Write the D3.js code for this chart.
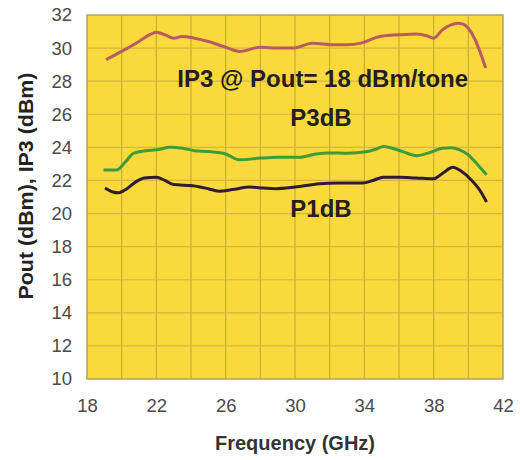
<!DOCTYPE html>
<html lang="en">
<head>
<meta charset="UTF-8">
<title>Pout and IP3 vs Frequency</title>
<style>
body {
    margin: 0;
    background-color: #fff;
    font-family: "Liberation Sans", Arial, sans-serif;
}
</style>
</head>
<body>
<div id="plot"></div>
<script src="https://cdn.jsdelivr.net/npm/d3@7"></script>
<script>

const w = 520,
      h = 460;

// values (GHz, dBm)
const ip3Freq = [19.1, 20.0, 21.0, 21.6, 22.0, 22.5, 23.0, 23.5, 24.2, 25.0, 26.0, 26.8, 28.0, 29.0, 29.9, 31.0, 32.2, 33.0, 33.8, 34.9, 36.0, 37.0, 37.6, 38.0, 38.5, 39.0, 39.4, 39.7, 40.0, 40.4, 40.7, 41.0];
const ip3Vals = [29.3, 29.8, 30.4, 30.8, 30.95, 30.8, 30.6, 30.7, 30.6, 30.4, 30.05, 29.8, 30.05, 30.0, 30.0, 30.3, 30.2, 30.2, 30.3, 30.7, 30.8, 30.85, 30.75, 30.6, 31.1, 31.4, 31.5, 31.45, 31.2, 30.5, 29.7, 28.8];

const p3Freq = [18.95, 19.7, 20.2, 20.7, 21.4, 22.0, 22.8, 23.5, 24.2, 25.0, 26.0, 26.8, 28.0, 29.0, 30.3, 31.2, 31.9, 33.0, 34.2, 34.7, 35.1, 35.6, 36.2, 37.0, 37.8, 38.5, 39.0, 39.5, 40.0, 40.5, 41.05];
const p3Vals = [22.63, 22.63, 23.1, 23.65, 23.8, 23.85, 24.0, 23.95, 23.8, 23.75, 23.6, 23.25, 23.35, 23.4, 23.4, 23.6, 23.66, 23.65, 23.75, 23.9, 24.05, 23.95, 23.75, 23.5, 23.7, 23.95, 23.98, 23.85, 23.55, 23.0, 22.35];

const p1Freq = [19.04, 19.5, 19.8, 20.3, 20.8, 21.3, 22.0, 22.5, 23.0, 24.1, 25.0, 25.6, 26.4, 27.4, 28.0, 28.9, 30.0, 31.4, 32.5, 33.9, 34.5, 35.1, 36.0, 37.0, 38.0, 38.6, 39.1, 39.6, 40.2, 40.6, 41.05];
const p1Vals = [21.55, 21.3, 21.25, 21.5, 21.9, 22.15, 22.2, 22.0, 21.75, 21.68, 21.5, 21.35, 21.45, 21.6, 21.55, 21.5, 21.6, 21.8, 21.85, 21.85, 22.0, 22.2, 22.2, 22.15, 22.1, 22.5, 22.8, 22.55, 22.0, 21.5, 20.7];

const xTicks = [18, 22, 26, 30, 34, 38, 42];
const yTicks = [10, 12, 14, 16, 18, 20, 22, 24, 26, 28, 30, 32];

const margin = {top: 15, right: 17, bottom: 81, left: 87};

const svg = d3.select("#plot").append("svg")
    .attr("width", w)
    .attr("height", h);

const x = d3.scaleLinear()
    .domain([18, 42])
    .range([margin.left, w - margin.right]);

const y = d3.scaleLinear()
    .domain([10, 32])
    .range([h - margin.bottom, margin.top]);

// yellow plot area
svg.append("rect")
    .attr("x", x(18))
    .attr("y", y(32))
    .attr("width", x(42) - x(18))
    .attr("height", y(10) - y(32))
    .attr("fill", "#f9d93c");

// grid every 2 units
svg.selectAll(".vgrid")
    .data(d3.range(20, 42, 2))
    .join("line")
    .attr("class", "vgrid")
    .attr("x1", d => x(d)).attr("x2", d => x(d))
    .attr("y1", y(32)).attr("y2", y(10))
    .attr("stroke", "#c9ab3a")
    .attr("stroke-width", 1.2);

svg.selectAll(".hgrid")
    .data(d3.range(12, 32, 2))
    .join("line")
    .attr("class", "hgrid")
    .attr("x1", x(18)).attr("x2", x(42))
    .attr("y1", d => y(d)).attr("y2", d => y(d))
    .attr("stroke", "#d6b540")
    .attr("stroke-width", 1.2);

// frame
svg.append("rect")
    .attr("x", x(18))
    .attr("y", y(32))
    .attr("width", x(42) - x(18))
    .attr("height", y(10) - y(32))
    .attr("fill", "none")
    .attr("stroke", "#b0a264")
    .attr("stroke-width", 1.5);

// axes (labels only)
const xAxis = svg.append("g")
    .attr("transform", `translate(0,${h - margin.bottom})`)
    .call(d3.axisBottom(x).tickValues(xTicks).tickSize(0).tickPadding(20));
const yAxis = svg.append("g")
    .attr("transform", `translate(${margin.left},0)`)
    .call(d3.axisLeft(y).tickValues(yTicks).tickSize(0).tickPadding(15));

[xAxis, yAxis].forEach(g => {
    g.select(".domain").remove();
    g.selectAll("text")
        .attr("fill", "#4a4a4a")
        .attr("font-size", 18.5)
        .attr("font-family", "Liberation Sans, Arial, sans-serif");
});

// lines
const line = d3.line()
    .x(d => x(d[0]))
    .y(d => y(d[1]))
    .curve(d3.curveMonotoneX);

const series = [
    {f: ip3Freq, v: ip3Vals, color: "#b85a62"},
    {f: p3Freq, v: p3Vals, color: "#3d9c38"},
    {f: p1Freq, v: p1Vals, color: "#2f1b34"}
];

svg.selectAll(".series")
    .data(series)
    .join("path")
    .attr("class", "series")
    .attr("d", s => line(d3.zip(s.f, s.v)))
    .attr("fill", "none")
    .attr("stroke", s => s.color)
    .attr("stroke-width", 3)
    .attr("stroke-linejoin", "round");

// annotations
const notes = [
    {text: "IP3 @ Pout= 18 dBm/tone", f: 31.6, v: 27.65},
    {text: "P3dB", f: 31.5, v: 25.29},
    {text: "P1dB", f: 31.5, v: 19.8}
];
svg.selectAll(".note")
    .data(notes)
    .join("text")
    .attr("class", "note")
    .attr("x", d => x(d.f))
    .attr("y", d => y(d.v))
    .attr("text-anchor", "middle")
    .attr("font-size", 24)
    .attr("font-weight", "bold")
    .attr("fill", "#231f20")
    .text(d => d.text);

// axis titles
svg.append("text")
    .attr("x", 295)
    .attr("y", 450)
    .attr("text-anchor", "middle")
    .attr("font-size", 20)
    .attr("font-weight", "bold")
    .attr("fill", "#333")
    .text("Frequency (GHz)");

svg.append("text")
    .attr("transform", `translate(33,186) rotate(-90)`)
    .attr("text-anchor", "middle")
    .attr("font-size", 21)
    .attr("font-weight", "bold")
    .attr("fill", "#222")
    .attr("textLength", 227)
    .attr("lengthAdjust", "spacingAndGlyphs")
    .text("Pout (dBm), IP3 (dBm)");

</script>
</body>
</html>
